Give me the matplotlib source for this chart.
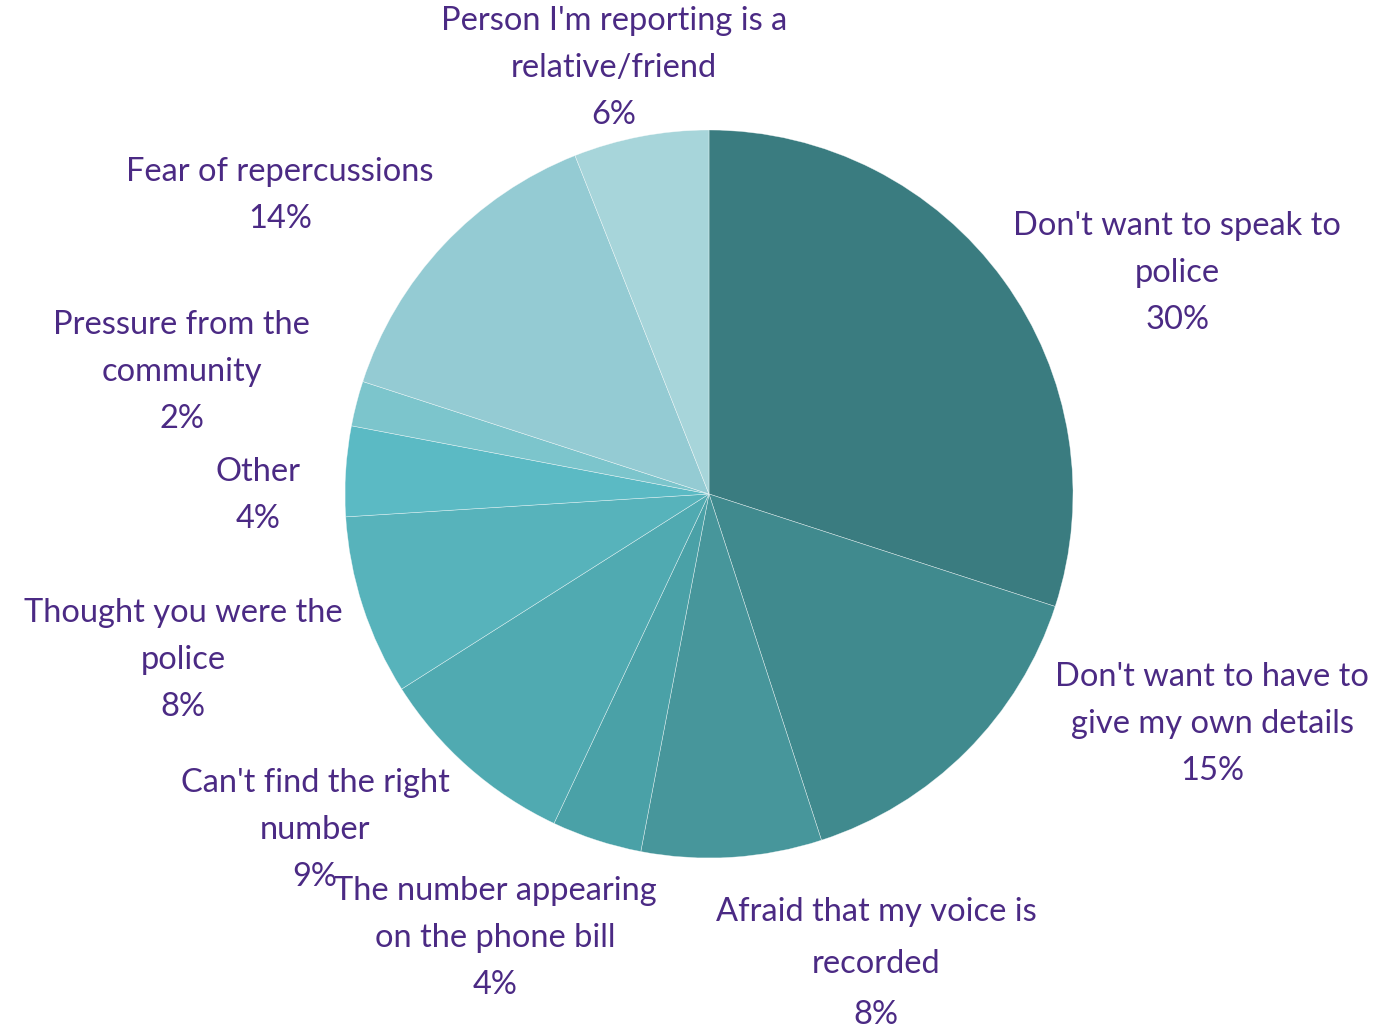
import matplotlib.pyplot as plt

reasons = [
    "Don't want to speak to\npolice",
    "Don't want to have to\ngive my own details",
    "Afraid that my voice is\nrecorded",
    "The number appearing\non the phone bill",
    "Can't find the right\nnumber",
    "Thought you were the\npolice",
    "Other",
    "Pressure from the\ncommunity",
    "Fear of repercussions",
    "Person I'm reporting is a\nrelative/friend",
]
shares = [30, 15, 8, 4, 9, 8, 4, 2, 14, 6]

colors = ["#3a7c80", "#408a8e", "#47969b", "#4aa1a7", "#50aab1",
          "#57b3bb", "#5bbac4", "#7cc5cc", "#94cbd3", "#a7d5da"]

# label anchors in pie-radius units (centre at 0, 0)
label_pos = [(1.286, 0.607), (1.382, -0.632), (0.459, -1.290), (-0.588, -1.220),
             (-1.082, -0.923), (-1.445, -0.456), (-1.239, -0.005), (-1.448, 0.335),
             (-1.179, 0.819), (-0.261, 1.170)]

text_color = "#4b2a84"

fig = plt.figure(figsize=(13.84, 10.31), dpi=100)
ax = fig.add_axes([0, 0, 1, 1])

ax.pie(shares, colors=colors, startangle=90, counterclock=False, radius=1,
       wedgeprops=dict(edgecolor=(1, 1, 1, 0.6), linewidth=0.4))

for name, val, (x, y) in zip(reasons, shares, label_pos):
    spacing = 1.9 if name.startswith("Afraid") else 1.7
    ax.text(x, y, f"{name}\n{val}%", ha="center", va="center", fontsize=23.5,
            color=text_color, family="Lato", linespacing=spacing)

ax.set_xlim(-709 / 364, (1384 - 709) / 364)
ax.set_ylim((494 - 1031) / 364, 494 / 364)
ax.set_aspect("equal")
ax.axis("off")

plt.savefig("out.png")
